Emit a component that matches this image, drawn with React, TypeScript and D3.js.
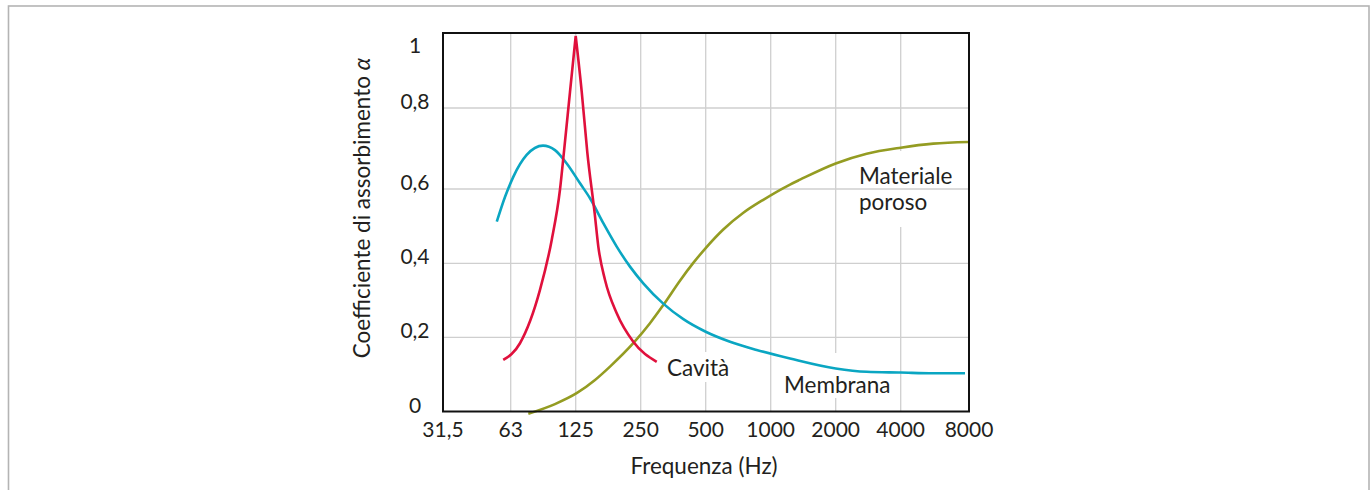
import React from "react";
import * as d3 from "d3";

// ---- data ----
const freqTicks = [31.25, 62.5, 125, 250, 500, 1000, 2000, 4000, 8000];
const freqLabels = ["31,5", "63", "125", "250", "500", "1000", "2000", "4000", "8000"];
const alphaTicks = [0, 0.2, 0.4, 0.6, 0.8, 1];
const alphaLabels = ["0", "0,2", "0,4", "0,6", "0,8", "1"];

const cavitaFreq = [57.9, 69.0, 85.4, 96.8, 105.7, 110.5, 117.6, 125, 133.3, 141.5, 153, 159.1, 170.9, 193.6, 231, 296.6];
const cavitaAlpha = [0.139, 0.184, 0.328, 0.463, 0.598, 0.696, 0.844, 1.0, 0.845, 0.69, 0.535, 0.445, 0.355, 0.265, 0.188, 0.134];

const membranaFreq = [54.2, 59.0, 64.25, 74.1, 88.2, 100.2, 113.6, 130.9, 145.6, 167.8, 193.6, 223, 257, 318, 394, 500, 648, 861, 1229, 2000, 2783, 4000, 5568, 7681];
const membranaAlpha = [0.512, 0.579, 0.63, 0.684, 0.707, 0.696, 0.663, 0.614, 0.575, 0.508, 0.445, 0.391, 0.346, 0.291, 0.249, 0.215, 0.188, 0.166, 0.143, 0.116, 0.107, 0.105, 0.103, 0.103];

const porosoFreq = [75.4, 100.2, 126.8, 153.6, 180.2, 231, 276, 318, 380, 438, 500, 603, 747, 924, 1229, 1367, 2000, 2783, 4000, 5568, 7950];
const porosoAlpha = [-0.006, 0.02, 0.05, 0.085, 0.121, 0.184, 0.238, 0.287, 0.353, 0.401, 0.441, 0.491, 0.536, 0.571, 0.611, 0.623, 0.663, 0.687, 0.702, 0.712, 0.716];

const xTitle = "Frequenza (Hz)";
const yTitle = "Coefficiente di assorbimento ";
const yTitleSymbol = "α";

// ---- layout ----
const W = 1372;
const H = 490;
const left = 443;
const right = 969;
const top = 33;
const bottom = 411.5;

const TEXT = "#231f20";
const GRID = "#cfcfcf";
const RED = "#e0103c";
const BLUE = "#0aa6c2";
const GREEN = "#949c22";
const FONT = "Lato, 'Open Sans', sans-serif";
const FS = 21; // numbers
const FW = 22.5; // words

const x = d3.scaleLog().base(2).domain([31.25, 62.5, 4000, 8000]).range([left, 510.7, 900.7, right]);
const y = d3.scaleLinear().domain([0, 0.2, 0.4, 0.6, 0.8, 1]).range([bottom, 337.3, 263.3, 189, 108, 36]);

type P = [number, number];
const zip = (f: number[], a: number[]): P[] => f.map((v, i) => [v, a[i]]);

const line = d3
  .line<P>()
  .x((d) => x(d[0]))
  .y((d) => y(d[1]))
  .curve(d3.curveMonotoneX);

// split peaked series at its maximum so the tip stays sharp
function peakedPath(f: number[], a: number[]): string {
  const pts = zip(f, a);
  const im = d3.maxIndex(a);
  return (line(pts.slice(0, im + 1)) || "") + (line(pts.slice(im)) || "");
}

export default function App() {
  const innerFreq = freqTicks.slice(1, -1);
  const innerAlpha = alphaTicks.slice(1, -1);
  return (
    <svg
      width={W}
      height={H}
      style={{ position: "absolute", left: 0, top: 0, background: "#fff" }}
      fontFamily={FONT}
    >
      <rect x={8.5} y={6} width={1360.5} height={H + 20} fill="#fff" stroke="#b4b4b4" strokeWidth={1.6} />

      {/* vertical grid */}
      {innerFreq.map((f) => (
        <line key={"v" + f} x1={x(f)} x2={x(f)} y1={top} y2={bottom} stroke={GRID} strokeWidth={1.3} />
      ))}

      {/* white label backgrounds (gaps in vertical grid) */}
      <rect x={850} y={151} width={110} height={76} fill="#fff" />
      <rect x={779} y={353} width={118} height={45} fill="#fff" />
      <rect x={662} y={352} width={72} height={30} fill="#fff" />

      {/* horizontal grid */}
      {innerAlpha.map((a) => (
        <line key={"h" + a} x1={left} x2={right} y1={y(a)} y2={y(a)} stroke={GRID} strokeWidth={1.3} />
      ))}

      {/* curves */}
      <path d={line(zip(porosoFreq, porosoAlpha)) || ""} fill="none" stroke={GREEN} strokeWidth={2.6} />
      <path d={line(zip(membranaFreq, membranaAlpha)) || ""} fill="none" stroke={BLUE} strokeWidth={2.6} />
      <path d={peakedPath(cavitaFreq, cavitaAlpha)} fill="none" stroke={RED} strokeWidth={2.6} strokeLinejoin="miter" />

      {/* frame */}
      <rect x={left} y={top} width={right - left} height={bottom - top} fill="none" stroke="#111" strokeWidth={2} />

      {/* x tick labels */}
      {freqTicks.map((f, i) => (
        <text key={"xl" + f} x={x(f)} y={436.5} textAnchor="middle" fontSize={FS} fill={TEXT}>
          {freqLabels[i]}
        </text>
      ))}

      {/* y tick labels */}
      {alphaTicks.map((a, i) => (
        <text key={"yl" + a} x={415} y={Math.max(y(a) + 1, top + 20)} textAnchor="middle" fontSize={FS} fill={TEXT}>
          {alphaLabels[i]}
        </text>
      ))}

      {/* axis titles */}
      <text x={704} y={474} textAnchor="middle" fontSize={FW} fill={TEXT}>
        {xTitle}
      </text>
      <text
        transform={`translate(370, 208) rotate(-90)`}
        textAnchor="middle"
        fontSize={FW}
        fill={TEXT}
      >
        {yTitle}
        <tspan fontStyle="italic">{yTitleSymbol}</tspan>
      </text>

      {/* series labels */}
      <text x={667} y={376} fontSize={FW} fill={TEXT}>Cavità</text>
      <text x={784} y={393} fontSize={FW} fill={TEXT}>Membrana</text>
      <text x={859} y={183.5} fontSize={FW} fill={TEXT}>Materiale</text>
      <text x={859} y={209.5} fontSize={FW} fill={TEXT}>poroso</text>
    </svg>
  );
}
